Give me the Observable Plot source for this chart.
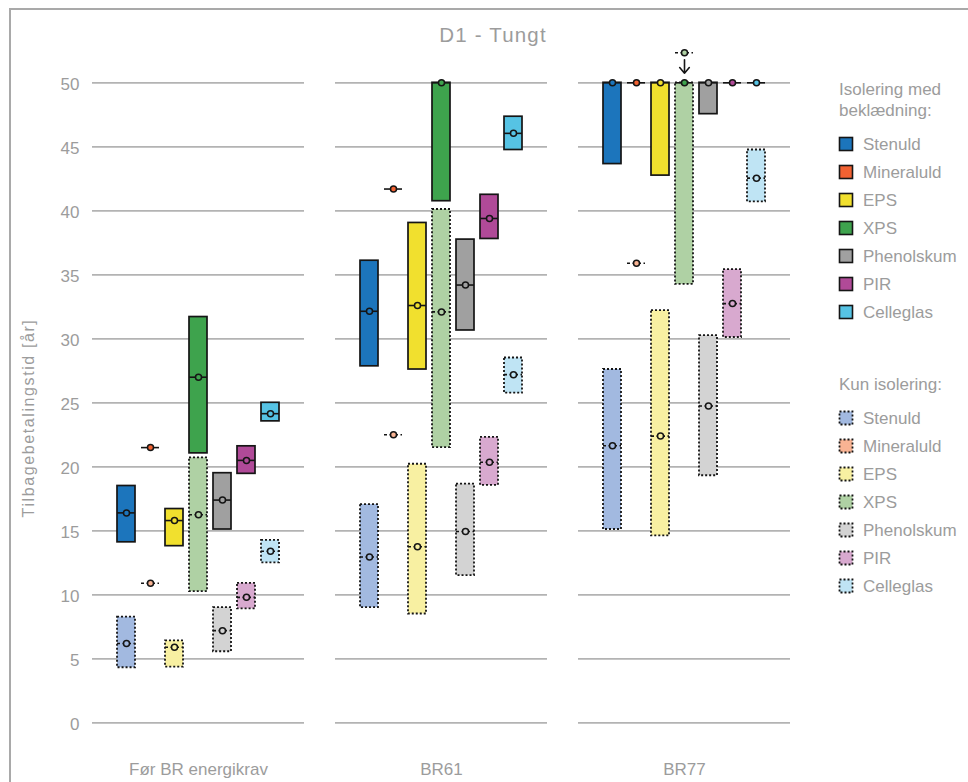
<!DOCTYPE html>
<html><head><meta charset="utf-8">
<script src="https://cdn.jsdelivr.net/npm/d3@7"></script>
<script src="https://cdn.jsdelivr.net/npm/@observablehq/plot@0.6"></script>
<style>
body{margin:0;background:#fff;overflow:hidden;font-family:"Liberation Sans",Arial,sans-serif;}
#wrap{position:relative;width:968px;height:782px;overflow:hidden;}
#frame{position:absolute;left:9px;top:8px;width:1100px;height:1100px;border:2px solid #a9a9a9;box-sizing:border-box;}
#chart{position:absolute;left:0;top:0;}
#overlay{position:absolute;left:0;top:0;pointer-events:none;}
</style></head>
<body><div id="wrap"><div id="frame"></div><div id="chart"></div><svg id="overlay" width="968" height="782"></svg></div>
<script>
// ---- data ----
const groups = ["Før BR energikrav", "BR61", "BR77"];
const materials = ["Stenuld", "Mineraluld", "EPS", "XPS", "Phenolskum", "PIR", "Celleglas"];
const yTicks = [0, 5, 10, 15, 20, 25, 30, 35, 40, 45, 50];
const cladColors = ["#1c75bc", "#f26232", "#f1e02e", "#3ea34d", "#a0a0a0", "#b04a98", "#56c3e4"];
const bareColors = ["#a2b9e0", "#f8b393", "#f8f0a2", "#afd1a4", "#d3d3d3", "#d8a9cf", "#bfe4f4"];
// Isolering med beklædning (solid)
const cladLow  = [[14.1, 21.5, 13.8, 21.05, 15.1, 19.45, 23.55], [27.85, 41.7, 27.6, 40.75, 30.65, 37.8, 44.75], [43.65, 50, 42.75, 50, 47.55, 50, 50]];
const cladHigh = [[18.5, 21.5, 16.7, 31.7, 19.5, 21.6, 25.0], [36.1, 41.7, 39.05, 50, 37.75, 41.25, 47.35], [50, 50, 50, 50, 50, 50, 50]];
const cladMid  = [[16.4, 21.5, 15.8, 27.0, 17.4, 20.5, 24.15], [32.15, 41.7, 32.6, 50, 34.2, 39.4, 46.05], [50, 50, 50, 50, 50, 50, 50]];
// Kun isolering (dotted)
const bareLow  = [[4.3, 10.9, 4.35, 10.25, 5.55, 8.9, 12.5], [9.0, 22.5, 8.5, 21.5, 11.5, 18.55, 25.75], [15.1, 35.9, 14.6, 34.25, 19.3, 30.1, 40.7]];
const bareHigh = [[8.25, 10.9, 6.4, 20.7, 9.0, 10.9, 14.25], [17.05, 22.5, 20.2, 40.1, 18.65, 22.3, 28.5], [27.6, 35.9, 32.2, 50, 30.25, 35.4, 44.75]];
const bareMid  = [[6.2, 10.9, 5.9, 16.25, 7.2, 9.8, 13.4], [12.95, 22.5, 13.75, 32.1, 14.95, 20.35, 27.2], [21.65, 35.9, 22.4, 52.35, 24.75, 32.75, 42.55]];

function buildRows(lo, hi, mid, colors) {
  const out = [];
  groups.forEach((g, gi) => materials.forEach((m, mi) => out.push({
    group: g, material: m, lo: lo[gi][mi], hi: hi[gi][mi], med: mid[gi][mi], color: colors[mi]
  })));
  return out;
}
const cladRows = buildRows(cladLow, cladHigh, cladMid, cladColors);
const bareRows = buildRows(bareLow, bareHigh, bareMid, bareColors);

const ink = "#151515";
const chart = Plot.plot({
  width: 968, height: 782,
  marginLeft: 92, marginRight: 178, marginTop: 82.3, marginBottom: 59.7,
  style: {fontFamily: '"Liberation Sans", Arial, sans-serif', fontSize: "17px", color: "#9c9c9c", background: "transparent", overflow: "visible"},
  fx: {domain: groups, paddingInner: 0.128, paddingOuter: 0, label: null},
  x: {domain: materials, paddingInner: 0.24, paddingOuter: 0.96, axis: null},
  y: {domain: [0, 50], label: null},
  color: {type: "identity"},
  marks: [
    Plot.gridY(yTicks, {stroke: "#b3b3b3", strokeOpacity: 1, strokeWidth: 1.8}),
    Plot.axisY(yTicks, {tickSize: 0, tickPadding: 13, dy: 2, fontSize: 17, label: null}),
    Plot.axisFx({anchor: "bottom", tickSize: 0, tickPadding: 40.5, fontSize: 17, label: null}),
    Plot.barY(bareRows.filter(d => d.hi > d.lo), {fx: "group", x: "material", y1: "lo", y2: "hi", fill: "color", stroke: ink, strokeWidth: 1.8, strokeDasharray: "2,2"}),
    Plot.barY(cladRows.filter(d => d.hi > d.lo), {fx: "group", x: "material", y1: "lo", y2: "hi", fill: "color", stroke: ink, strokeWidth: 1.7}),
    Plot.tickY(bareRows, {fx: "group", x: "material", y: "med", stroke: ink, strokeWidth: 1.6, strokeDasharray: "3,2.5"}),
    Plot.tickY(cladRows, {fx: "group", x: "material", y: "med", stroke: ink, strokeWidth: 1.6}),
    Plot.arrow(bareRows.filter(d => d.med > d.hi), {fx: "group", x1: "material", x2: "material", y1: "med", y2: "hi", stroke: ink, strokeWidth: 1.6, insetStart: 7, insetEnd: 9.5, headLength: 7, headAngle: 80}),
    Plot.dot(bareRows, {fx: "group", x: "material", y: "med", r: 3, fill: "color", stroke: ink, strokeWidth: 1.5}),
    Plot.dot(cladRows, {fx: "group", x: "material", y: "med", r: 3, fill: "color", stroke: ink, strokeWidth: 1.5})
  ]
});
document.getElementById("chart").appendChild(chart);

// ---- title, axis label, legend ----
const ov = d3.select("#overlay").style("font-family", '"Liberation Sans", Arial, sans-serif');
const grey = "#9c9c9c";
ov.append("text").attr("x", 493).attr("y", 41.5).attr("text-anchor", "middle")
  .attr("font-size", 20.5).attr("letter-spacing", "1.2px").attr("fill", grey).text("D1 - Tungt");
ov.append("text").attr("transform", "translate(34,418) rotate(-90)").attr("text-anchor", "middle")
  .attr("font-size", 16).attr("letter-spacing", "1.6px").attr("fill", grey).text("Tilbagebetalingstid  [år]");

function legendBlock(headLines, headY, rowY0, colors, dashed) {
  headLines.forEach((t, i) => ov.append("text").attr("x", 839).attr("y", headY + i * 21)
    .attr("font-size", 17).attr("fill", grey).text(t));
  materials.forEach((m, i) => {
    const cy = rowY0 + i * 28;
    ov.append("rect").attr("x", 839.5).attr("y", cy - 6.5).attr("width", 13).attr("height", 13)
      .attr("fill", colors[i]).attr("stroke", ink).attr("stroke-width", dashed ? 1.8 : 1.6)
      .attr("stroke-dasharray", dashed ? "2,2" : null);
    ov.append("text").attr("x", 863).attr("y", cy + 6.1).attr("font-size", 17).attr("fill", grey).text(m);
  });
}
legendBlock(["Isolering med", "beklædning:"], 95, 144, cladColors, false);
legendBlock(["Kun isolering:"], 390, 418, bareColors, true);
</script>
</body></html>
